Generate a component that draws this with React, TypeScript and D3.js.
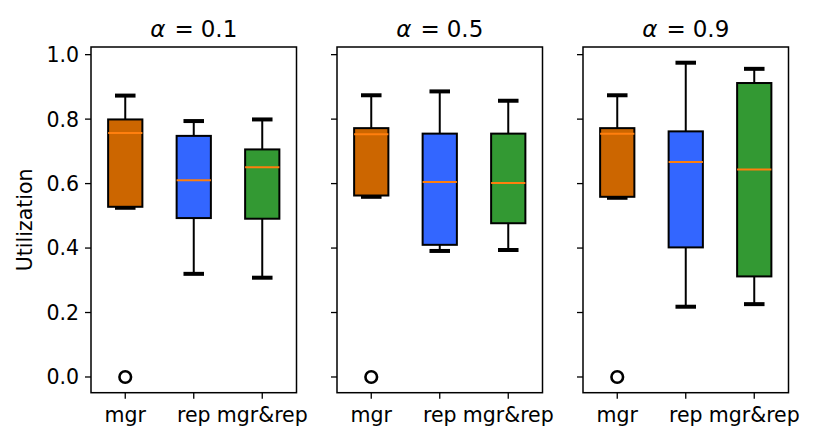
import React, { useEffect, useRef } from 'react';
import * as d3 from 'd3';

const alphas = [0.1, 0.5, 0.9];
const categories = ['mgr', 'rep', 'mgr&rep'];
const boxColors = ['#cc6600', '#3366ff', '#339933'];

// per panel, per category
const whiskerLow = [
  [0.525, 0.32, 0.308],
  [0.559, 0.391, 0.394],
  [0.556, 0.218, 0.226],
];
const q1 = [
  [0.528, 0.493, 0.491],
  [0.563, 0.41, 0.477],
  [0.559, 0.402, 0.312],
];
const medians = [
  [0.757, 0.61, 0.651],
  [0.753, 0.605, 0.602],
  [0.755, 0.667, 0.644],
];
const q3 = [
  [0.799, 0.748, 0.706],
  [0.772, 0.755, 0.755],
  [0.772, 0.762, 0.912],
];
const whiskerHigh = [
  [0.873, 0.794, 0.799],
  [0.874, 0.886, 0.857],
  [0.874, 0.975, 0.956],
];
const outliers = [
  [[0], [], []],
  [[0], [], []],
  [[0], [], []],
];
const yTicks = [0.0, 0.2, 0.4, 0.6, 0.8, 1.0];

const W = 816;
const H = 443;
const panelLefts = [91, 337, 583];
const panelWidth = 205.5;
const top = 47;
const bottom = 392.7;
const font = "'DejaVu Sans', sans-serif";
const tickSize = 20.5;

const App: React.FC = () => {
  const svgRef = useRef<SVGSVGElement>(null);

  useEffect(() => {
    if (!svgRef.current) return;
    const svg = d3.select(svgRef.current);
    svg.selectAll('*').remove();

    const y = d3.scaleLinear().domain([-0.04875, 1.02375]).range([bottom, top]);

    alphas.forEach((alpha, p) => {
      const left = panelLefts[p];
      const x = d3.scaleLinear().domain([0.5, 3.5]).range([left, left + panelWidth]);
      const g = svg.append('g');

      categories.forEach((cat, i) => {
        const cx = x(i + 1);
        const halfBox = x(1.25) - x(1);
        const halfCap = x(1.15) - x(1);

        // whiskers
        g.append('line')
          .attr('x1', cx).attr('x2', cx)
          .attr('y1', y(q3[p][i])).attr('y2', y(whiskerHigh[p][i]))
          .attr('stroke', '#000').attr('stroke-width', 2);
        g.append('line')
          .attr('x1', cx).attr('x2', cx)
          .attr('y1', y(q1[p][i])).attr('y2', y(whiskerLow[p][i]))
          .attr('stroke', '#000').attr('stroke-width', 2);

        // caps
        [whiskerHigh[p][i], whiskerLow[p][i]].forEach((v) => {
          g.append('line')
            .attr('x1', cx - halfCap).attr('x2', cx + halfCap)
            .attr('y1', y(v)).attr('y2', y(v))
            .attr('stroke', '#000').attr('stroke-width', 4);
        });

        // box
        g.append('rect')
          .attr('x', cx - halfBox)
          .attr('y', y(q3[p][i]))
          .attr('width', halfBox * 2)
          .attr('height', y(q1[p][i]) - y(q3[p][i]))
          .attr('fill', boxColors[i])
          .attr('stroke', '#000')
          .attr('stroke-width', 2);

        // median
        g.append('line')
          .attr('x1', cx - halfBox).attr('x2', cx + halfBox)
          .attr('y1', y(medians[p][i])).attr('y2', y(medians[p][i]))
          .attr('stroke', '#ff7f0e').attr('stroke-width', 2);

        // fliers
        outliers[p][i].forEach((v) => {
          g.append('circle')
            .attr('cx', cx).attr('cy', y(v)).attr('r', 5.8)
            .attr('fill', 'none').attr('stroke', '#000').attr('stroke-width', 2.6);
        });

        // x tick
        g.append('line')
          .attr('x1', cx).attr('x2', cx)
          .attr('y1', bottom).attr('y2', bottom + 6)
          .attr('stroke', '#000').attr('stroke-width', 1.3);
        g.append('text')
          .attr('x', cx).attr('y', bottom + 29.3)
          .attr('text-anchor', 'middle')
          .attr('font-family', font).attr('font-size', tickSize)
          .attr('fill', '#000')
          .text(cat);
      });

      // y ticks
      yTicks.forEach((t) => {
        g.append('line')
          .attr('x1', left - 6).attr('x2', left)
          .attr('y1', y(t)).attr('y2', y(t))
          .attr('stroke', '#000').attr('stroke-width', 1.3);
        if (p === 0) {
          g.append('text')
            .attr('x', left - 12).attr('y', y(t))
            .attr('dy', '0.36em')
            .attr('text-anchor', 'end')
            .attr('font-family', font).attr('font-size', tickSize)
            .attr('fill', '#000')
            .text(t.toFixed(1));
        }
      });

      // frame
      g.append('rect')
        .attr('x', left).attr('y', top)
        .attr('width', panelWidth).attr('height', bottom - top)
        .attr('fill', 'none').attr('stroke', '#000').attr('stroke-width', 1.5);

      // title
      const title = g.append('text')
        .attr('x', left + panelWidth / 2).attr('y', 36.5)
        .attr('text-anchor', 'middle')
        .attr('font-family', font).attr('font-size', 23)
        .attr('fill', '#000');
      title.append('tspan').attr('font-style', 'italic').text('α');
      title.append('tspan').attr('dx', 9).text('=');
      title.append('tspan').attr('dx', 7).text(`${alpha}`);
    });

    svg.append('text')
      .attr('transform', `translate(32, ${(top + bottom) / 2}) rotate(-90)`)
      .attr('text-anchor', 'middle')
      .attr('font-family', font).attr('font-size', tickSize)
      .attr('fill', '#000')
      .text('Utilization');
  }, []);

  return (
    <svg
      ref={svgRef}
      width={W}
      height={H}
      style={{ position: 'absolute', left: 0, top: 0, background: '#fff' }}
    />
  );
};

export default App;
